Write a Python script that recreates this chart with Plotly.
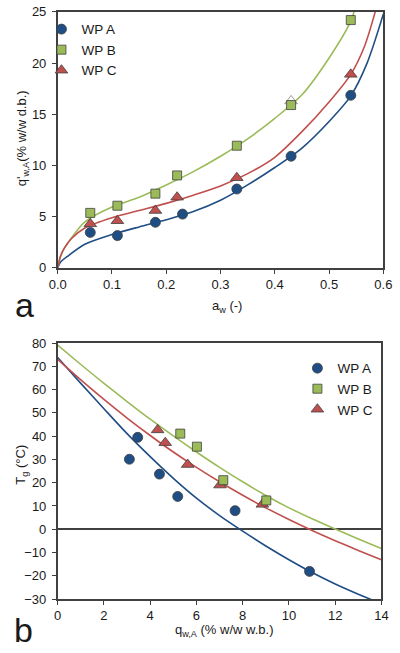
import plotly.graph_objects as go

# ---------------- Panel a : sorption isotherms ----------------
aw_A = [0.06, 0.11, 0.18, 0.23, 0.33, 0.43, 0.54]
q_A = [3.46, 3.15, 4.45, 5.25, 7.7, 10.9, 16.85]
aw_B = [0.06, 0.11, 0.18, 0.22, 0.33, 0.43, 0.54]
q_B = [5.37, 6.07, 7.25, 9.03, 11.93, 15.9, 24.2]
aw_C = [0.06, 0.11, 0.18, 0.22, 0.33, 0.43, 0.54]
q_C = [4.3, 4.6, 5.6, 6.9, 8.8, 16.3, 18.9]

# fitted isotherm curves
fit_aw_A = [0, 0.005, 0.02, 0.05, 0.1, 0.15, 0.2, 0.25, 0.3, 0.35, 0.4, 0.45, 0.5, 0.54, 0.57, 0.6]
fit_q_A = [0, 0.55, 1.2, 2.3, 3.25, 4.0, 4.7, 5.5, 6.6, 8.1, 9.8, 11.7, 14.3, 16.8, 20.0, 24.8]
fit_aw_B = [0, 0.005, 0.012, 0.025, 0.05, 0.1, 0.15, 0.2, 0.25, 0.3, 0.35, 0.4, 0.45, 0.5, 0.54, 0.547]
fit_q_B = [0, 1.1, 1.9, 2.9, 4.5, 5.95, 6.9, 8.1, 9.4, 10.9, 12.6, 14.6, 16.9, 20.5, 24.1, 25.2]
fit_aw_C = [0, 0.005, 0.012, 0.025, 0.05, 0.1, 0.15, 0.2, 0.25, 0.3, 0.35, 0.4, 0.45, 0.5, 0.54, 0.565, 0.585]
fit_q_C = [0, 1.1, 1.9, 2.85, 3.9, 4.9, 5.6, 6.3, 7.1, 8.0, 9.2, 10.8, 13.3, 16.2, 18.9, 21.6, 25.0]

# ---------------- Panel b : glass transition ----------------
qw_A = [3.1, 3.46, 4.4, 5.19, 7.67, 10.89]
Tg_A = [30.1, 39.5, 23.7, 14.1, 8.0, -18.1]
qw_B = [5.3, 6.02, 7.16, 9.02]
Tg_B = [41.1, 35.5, 21.1, 12.4]
qw_C = [4.32, 4.65, 5.62, 7.02, 8.85]
Tg_C = [42.7, 37.2, 27.8, 19.0, 10.7]

# Gordon-Taylor curves
fit_qw = [0, 1, 2, 3, 4, 5, 6, 7, 8, 9, 10, 11, 12, 13, 14]
fit_Tg_A = [73.8, 62.7, 51.8, 41.1, 31.2, 21.9, 13.4, 5.9, -0.8, -7.2, -13.1, -18.6, -23.5, -27.9, -32.0]
fit_Tg_B = [79.1, 70.8, 62.7, 54.9, 47.3, 40.1, 33.2, 26.6, 20.4, 14.5, 9.2, 4.5, 0.1, -4.2, -8.3]
fit_Tg_C = [73.0, 64.2, 55.8, 47.8, 40.3, 33.2, 26.6, 20.4, 14.6, 9.2, 4.2, -0.5, -4.9, -9.1, -13.1]

names = ["WP A", "WP B", "WP C"]
BLUE, GREEN, RED = "#1F4E85", "#9BBB59", "#C0504D"
AX = "#404040"
FONT = "Liberation Sans, Arial, sans-serif"

fig = go.Figure()

def line(x, y, color, xa, ya):
    fig.add_trace(go.Scatter(x=x, y=y, mode="lines", line=dict(color=color, width=1.6, shape="spline", smoothing=0.8),
                             xaxis=xa, yaxis=ya, showlegend=False, hoverinfo="skip"))

line(fit_aw_A, fit_q_A, BLUE, "x", "y")
line(fit_aw_B, fit_q_B, GREEN, "x", "y")
line(fit_aw_C, fit_q_C, RED, "x", "y")
line(fit_qw, fit_Tg_A, BLUE, "x2", "y2")
line(fit_qw, fit_Tg_B, GREEN, "x2", "y2")
line(fit_qw, fit_Tg_C, RED, "x2", "y2")

def pts(x, y, name, color, symbol, size, xa, ya, legend, rank, lcolor=AX):
    fig.add_trace(go.Scatter(x=x, y=y, mode="markers", name=name, legend=legend, legendrank=rank,
                             marker=dict(color=color, symbol=symbol, size=size, line=dict(color=lcolor, width=0.8)),
                             xaxis=xa, yaxis=ya))

c_colors = [RED, RED, RED, RED, RED, "white", RED]
c_lines = [AX, AX, AX, AX, AX, "#808080", AX]
pts(aw_A, q_A, names[0], BLUE, "circle", 10, "x", "y", "legend", 1)
pts(aw_C, q_C, names[2], c_colors, "triangle-up", 11, "x", "y", "legend", 3, c_lines)
pts(aw_B, q_B, names[1], GREEN, "square", 9, "x", "y", "legend", 2)
pts(qw_A, Tg_A, names[0], BLUE, "circle", 10, "x2", "y2", "legend2", 1)
pts(qw_C, Tg_C, names[2], RED, "triangle-up", 11, "x2", "y2", "legend2", 3)
pts(qw_B, Tg_B, names[1], GREEN, "square", 9, "x2", "y2", "legend2", 2)

H = 653.0
def py(p):
    return 1 - p / H

axis_common = dict(showline=True, linecolor=AX, linewidth=1.5, mirror=True, showgrid=False,
                   ticks="outside", ticklen=4, tickcolor=AX, tickwidth=1.2,
                   tickfont=dict(family=FONT, size=13, color="#1a1a1a"), fixedrange=True)

fig.update_layout(
    width=400, height=653, margin=dict(l=0, r=0, t=0, b=0),
    paper_bgcolor="white", plot_bgcolor="white",
    font=dict(family=FONT, color="#1a1a1a"),
    xaxis=dict(domain=[51 / 400, 392 / 400], anchor="y", range=[0, 0.6], dtick=0.1, tickformat=".1f",
               zeroline=False, **axis_common),
    yaxis=dict(domain=[py(267), py(5)], anchor="x", range=[0, 25], dtick=5, zeroline=False,
               ticklabelstandoff=3, **axis_common),
    xaxis2=dict(domain=[51 / 400, 390 / 400], anchor="y2", range=[0, 14], dtick=2, zeroline=False, **axis_common),
    yaxis2=dict(domain=[py(606), py(344)], anchor="x2", range=[-30, 80], dtick=10, ticklabelstandoff=3,
                zeroline=True, zerolinecolor=AX, zerolinewidth=1.5, **axis_common),
    legend=dict(x=34 / 400, y=py(7), xanchor="left", yanchor="top", bgcolor="rgba(0,0,0,0)",
                font=dict(family=FONT, size=13.5, color="#1a1a1a"), traceorder="normal"),
    legend2=dict(x=302 / 400, y=py(354), xanchor="left", yanchor="top", bgcolor="rgba(0,0,0,0)",
                 font=dict(family=FONT, size=13.5, color="#1a1a1a"), traceorder="normal"),
)

ann = [
    dict(text="a<sub>w</sub> (-)", x=228 / 400, y=py(307), font=dict(size=13)),
    dict(text="q'<sub>w,A</sub>(% w/w d.b.)", x=15 / 400, y=py(134), textangle=-90, font=dict(size=13)),
    dict(text="T<sub>g</sub> (°C)", x=13 / 400, y=py(468), textangle=-90, font=dict(size=13)),
    dict(text="q<sub>w,A</sub> (% w/w w.b.)", x=225 / 400, y=py(638), font=dict(size=13)),
    dict(text="a", x=16 / 400, y=py(305), font=dict(size=34)),
    dict(text="b", x=15 / 400, y=py(638), font=dict(size=34)),
]
for a in ann:
    fig.add_annotation(xref="paper", yref="paper", showarrow=False, xanchor="center", yanchor="middle",
                       font=dict(family=FONT, color="#1a1a1a", size=a["font"]["size"]),
                       text=a["text"], x=a["x"], y=a["y"], textangle=a.get("textangle", 0))

fig.write_html("out.html")
